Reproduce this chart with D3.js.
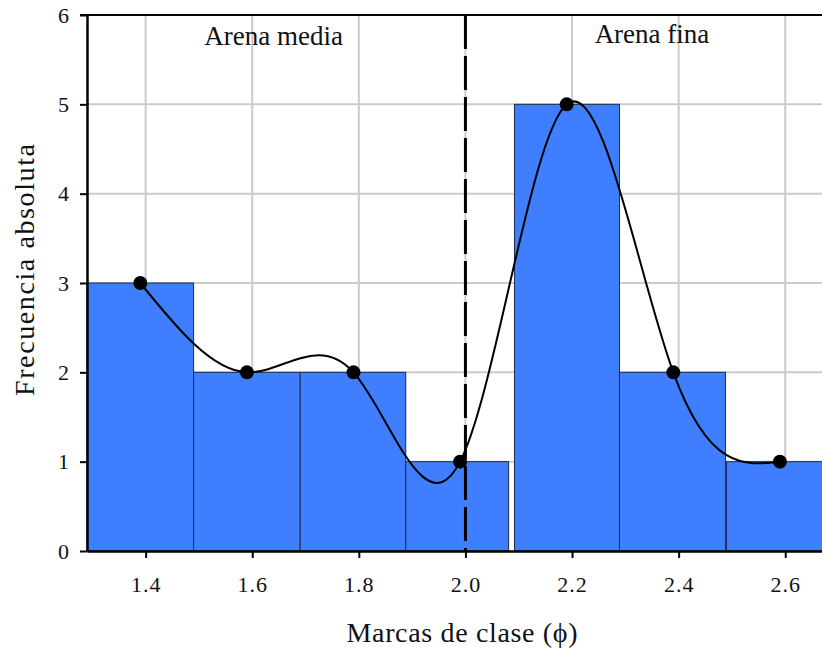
<!DOCTYPE html>
<html>
<head>
<meta charset="utf-8">
<script src="https://cdn.jsdelivr.net/npm/d3@7"></script>
<style>
  html, body { margin: 0; padding: 0; background: #fff; overflow: hidden; }
  svg { display: block; }
  text { font-family: "Liberation Serif", "Times New Roman", serif; fill: #111; }
</style>
</head>
<body>
<script>
// ---- data ----
const classMarks   = [1.39, 1.59, 1.79, 1.99, 2.19, 2.39, 2.59];
const frequencies  = [3, 2, 2, 1, 5, 2, 1];
const binStarts    = [1.29, 1.49, 1.69, 1.888, 2.092, 2.289, 2.49];
const binEnds      = [1.49, 1.69, 1.888, 2.081, 2.289, 2.488, 2.69];
const xTicks       = [1.4, 1.6, 1.8, 2.0, 2.2, 2.4, 2.6];
const yTicks       = [0, 1, 2, 3, 4, 5, 6];
const dividerX     = 2.0;
const regionLabels = ["Arena media", "Arena fina"];
const regionLabelX = [1.64, 2.35];
const xTitle = "Marcas de clase (\u03D5)";
const yTitle = "Frecuencia absoluta";

// ---- layout ----
const W = 822, H = 648;
const mLeft = 87, mTop = 15, mBottom = 551;

const svg = d3.select("body").append("svg").attr("width", W).attr("height", H);

const x = d3.scaleLinear().domain([1.29, 2.7]).range([mLeft, mLeft + 1.41 * 533]);
const y = d3.scaleLinear().domain([0, 6]).range([mBottom, mTop]);

// gridlines
const grid = svg.append("g");
grid.selectAll("line.vx").data(xTicks).join("line")
  .attr("x1", d => x(d)).attr("x2", d => x(d))
  .attr("y1", mTop).attr("y2", mBottom)
  .attr("stroke", "#cbcbcb").attr("stroke-width", 2);
grid.selectAll("line.hy").data(yTicks.filter(d => d > 0 && d < 6)).join("line")
  .attr("x1", mLeft).attr("x2", W)
  .attr("y1", d => y(d)).attr("y2", d => y(d))
  .attr("stroke", "#cbcbcb").attr("stroke-width", 2);

// bars
svg.append("g").selectAll("rect").data(frequencies).join("rect")
  .attr("x", (d, i) => x(binStarts[i]))
  .attr("width", (d, i) => x(binEnds[i]) - x(binStarts[i]))
  .attr("y", d => y(d))
  .attr("height", d => mBottom - y(d))
  .attr("fill", "#3f7fff")
  .attr("stroke", "#1c2b4e")
  .attr("stroke-width", 1);

// dashed divider
svg.append("line")
  .attr("x1", x(dividerX)).attr("x2", x(dividerX))
  .attr("y1", mTop).attr("y2", mBottom)
  .attr("stroke", "#000").attr("stroke-width", 3)
  .attr("stroke-dasharray", "34,7");

// curve
const pts = classMarks.map((m, i) => [m, frequencies[i]]);
svg.append("path")
  .attr("d", d3.line().x(d => x(d[0])).y(d => y(d[1])).curve(d3.curveNatural)(pts))
  .attr("fill", "none").attr("stroke", "#000").attr("stroke-width", 2);

// dots
svg.append("g").selectAll("circle").data(pts).join("circle")
  .attr("cx", d => x(d[0])).attr("cy", d => y(d[1])).attr("r", 7)
  .attr("fill", "#000");

// axes
const xAxis = svg.append("g").attr("transform", `translate(0,${mBottom})`)
  .call(d3.axisBottom(x).tickValues(xTicks).tickFormat(d3.format(".1f")).tickSize(7).tickSizeOuter(0));
xAxis.select(".domain").attr("stroke", "#000").attr("stroke-width", 2.5);
xAxis.selectAll(".tick line").attr("stroke", "#000").attr("stroke-width", 2);
xAxis.selectAll(".tick text").attr("font-size", 22).attr("y", 25).attr("dy", "0.71em")
  .style("font-family", '"Liberation Serif", serif').attr("fill", "#222").attr("letter-spacing", 1);

const yAxis = svg.append("g").attr("transform", `translate(${mLeft},0)`)
  .call(d3.axisLeft(y).tickValues(yTicks).tickFormat(d3.format("d")).tickSize(7).tickSizeOuter(0));
yAxis.select(".domain").attr("stroke", "#000").attr("stroke-width", 2.5);
yAxis.selectAll(".tick line").attr("stroke", "#000").attr("stroke-width", 2);
yAxis.selectAll(".tick text").attr("font-size", 22).attr("x", -18)
  .style("font-family", '"Liberation Serif", serif').attr("fill", "#222");

// top border
svg.append("line").attr("x1", mLeft - 7).attr("x2", W).attr("y1", mTop).attr("y2", mTop)
  .attr("stroke", "#000").attr("stroke-width", 2);

// region labels
svg.append("g").selectAll("text").data(regionLabels).join("text")
  .attr("x", (d, i) => x(regionLabelX[i]))
  .attr("y", (d, i) => i === 0 ? 45 : 43)
  .attr("text-anchor", "middle").attr("font-size", 27)
  .text(d => d);

// axis titles
svg.append("text").attr("x", 462).attr("y", 642).attr("text-anchor", "middle")
  .attr("font-size", 28).attr("textLength", 231).attr("lengthAdjust", "spacing")
  .text(xTitle);
svg.append("text").attr("transform", "translate(34,270) rotate(-90)")
  .attr("text-anchor", "middle").attr("font-size", 28).attr("textLength", 252).attr("lengthAdjust", "spacing")
  .text(yTitle);
</script>
</body>
</html>
